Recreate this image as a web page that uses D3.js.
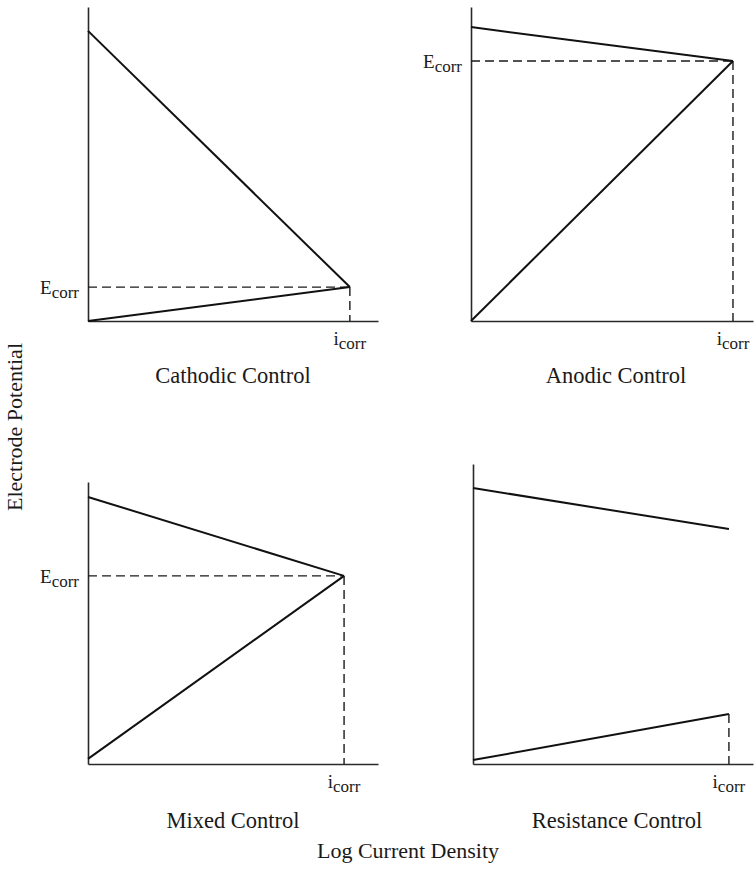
<!DOCTYPE html>
<html>
<head>
<meta charset="utf-8">
<script src="https://cdn.jsdelivr.net/npm/d3@7/dist/d3.min.js"></script>
<style>
  body { margin: 0; background: #fff; }
  svg { display: block; }
  text { font-family: "Liberation Serif", "DejaVu Serif", serif; fill: #1a1a1a; }
</style>
</head>
<body>
<svg id="chart" width="754" height="870"></svg>
<script>
// ---- data (normalized units 0..100 on each panel's axes) ----
const panelTitles = ["Cathodic Control", "Anodic Control", "Mixed Control", "Resistance Control"];
const cathodicLines = [
  [[0, 92.4], [90.3, 10.8]],
  [[0, 93.6], [92.9, 82.8]],
  [[0, 94.7], [88.3, 66.7]],
  [[0, 92.0], [91.4, 78.3]]
];
const anodicLines = [
  [[0, 0.0], [90.3, 10.8]],
  [[0, 0.0], [92.9, 82.8]],
  [[0, 1.8], [88.3, 66.7]],
  [[0, 1.3], [91.4, 16.7]]
];
const icorrValues = [90.3, 92.9, 88.3, 91.4];
const ecorrValues = [10.8, 82.8, 66.7, null];   // null: no E_corr marked
const icorrDashTop = [10.8, 82.8, 66.7, 16.7];
const yAxisLabel = "Electrode Potential";
const xAxisLabel = "Log Current Density";

// ---- layout ----
const frames = [
  { x0: 88,  x1: 378, yBottom: 321, yTop: 7 },
  { x0: 471, x1: 753, yBottom: 321, yTop: 7 },
  { x0: 88,  x1: 378, yBottom: 764, yTop: 482 },
  { x0: 473, x1: 753, yBottom: 764, yTop: 464 }
];
// pixel span of 100 potential units in each panel
const unitSpan = [314, 314, 282, 300];

const svg = d3.select("#chart");
const line = d3.line();

panelTitles.forEach((title, i) => {
  const f = frames[i];
  const xm = d3.scaleLinear().domain([0, 100]).range([f.x0, f.x1]);
  const y = d3.scaleLinear().domain([0, 100]).range([f.yBottom, f.yBottom - unitSpan[i]]);
  const yTopVal = y.invert(f.yTop);

  const g = svg.append("g");

  // axes (no ticks)
  g.append("g")
    .attr("transform", `translate(0,${f.yBottom})`)
    .call(d3.axisBottom(xm).tickValues([]).tickSizeOuter(0))
    .call(s => s.select(".domain").attr("stroke", "#2a2a2a").attr("stroke-width", 1.6));
  const yAxisScale = d3.scaleLinear().domain([0, yTopVal]).range([f.yBottom, f.yTop]);
  g.append("g")
    .attr("transform", `translate(${f.x0},0)`)
    .call(d3.axisLeft(yAxisScale).tickValues([]).tickSizeOuter(0))
    .call(s => s.select(".domain").attr("stroke", "#2a2a2a").attr("stroke-width", 1.6));

  // dashed guides
  const ic = icorrValues[i];
  const ec = ecorrValues[i];
  if (ec !== null) {
    g.append("path")
      .attr("d", line([[xm(0), y(ec)], [xm(ic), y(ec)]]))
      .attr("fill", "none").attr("stroke", "#1a1a1a")
      .attr("stroke-width", 1.4).attr("stroke-dasharray", "9,5");
  }
  g.append("path")
    .attr("d", line([[xm(ic), y(icorrDashTop[i])], [xm(ic), y(0)]]))
    .attr("fill", "none").attr("stroke", "#1a1a1a")
    .attr("stroke-width", 1.4).attr("stroke-dasharray", "9,5");

  // polarization lines
  [cathodicLines[i], anodicLines[i]].forEach(pts => {
    g.append("path")
      .attr("d", line(pts.map(p => [xm(p[0]), y(p[1])])))
      .attr("fill", "none").attr("stroke", "#111")
      .attr("stroke-width", 2);
  });

  // E_corr label
  if (ec !== null) {
    const t = g.append("text")
      .attr("x", f.x0 - 9).attr("y", y(ec) + 7)
      .attr("text-anchor", "end").style("font-size", "19px");
    t.append("tspan").text("E");
    t.append("tspan").attr("dy", 4).style("font-size", "17px").text("corr");
  }
  // i_corr label
  const it = g.append("text")
    .attr("x", xm(ic)).attr("y", f.yBottom + 24)
    .attr("text-anchor", "middle").style("font-size", "19px");
  it.append("tspan").text("i");
  it.append("tspan").attr("dy", 4).style("font-size", "17px").text("corr");

  // panel title
  g.append("text")
    .attr("x", (f.x0 + f.x1) / 2 + (i % 2 === 1 ? 4 : 0))
    .attr("y", f.yBottom + 62 + (i >= 2 ? 2 : 0))
    .attr("text-anchor", "middle").style("font-size", "22.5px")
    .text(title);
});

// shared axis titles
svg.append("text")
  .attr("transform", "translate(22,427) rotate(-90)")
  .attr("text-anchor", "middle").style("font-size", "22px")
  .text(yAxisLabel);
svg.append("text")
  .attr("x", 408).attr("y", 858)
  .attr("text-anchor", "middle").style("font-size", "22px")
  .text(xAxisLabel);
</script>
</body>
</html>
